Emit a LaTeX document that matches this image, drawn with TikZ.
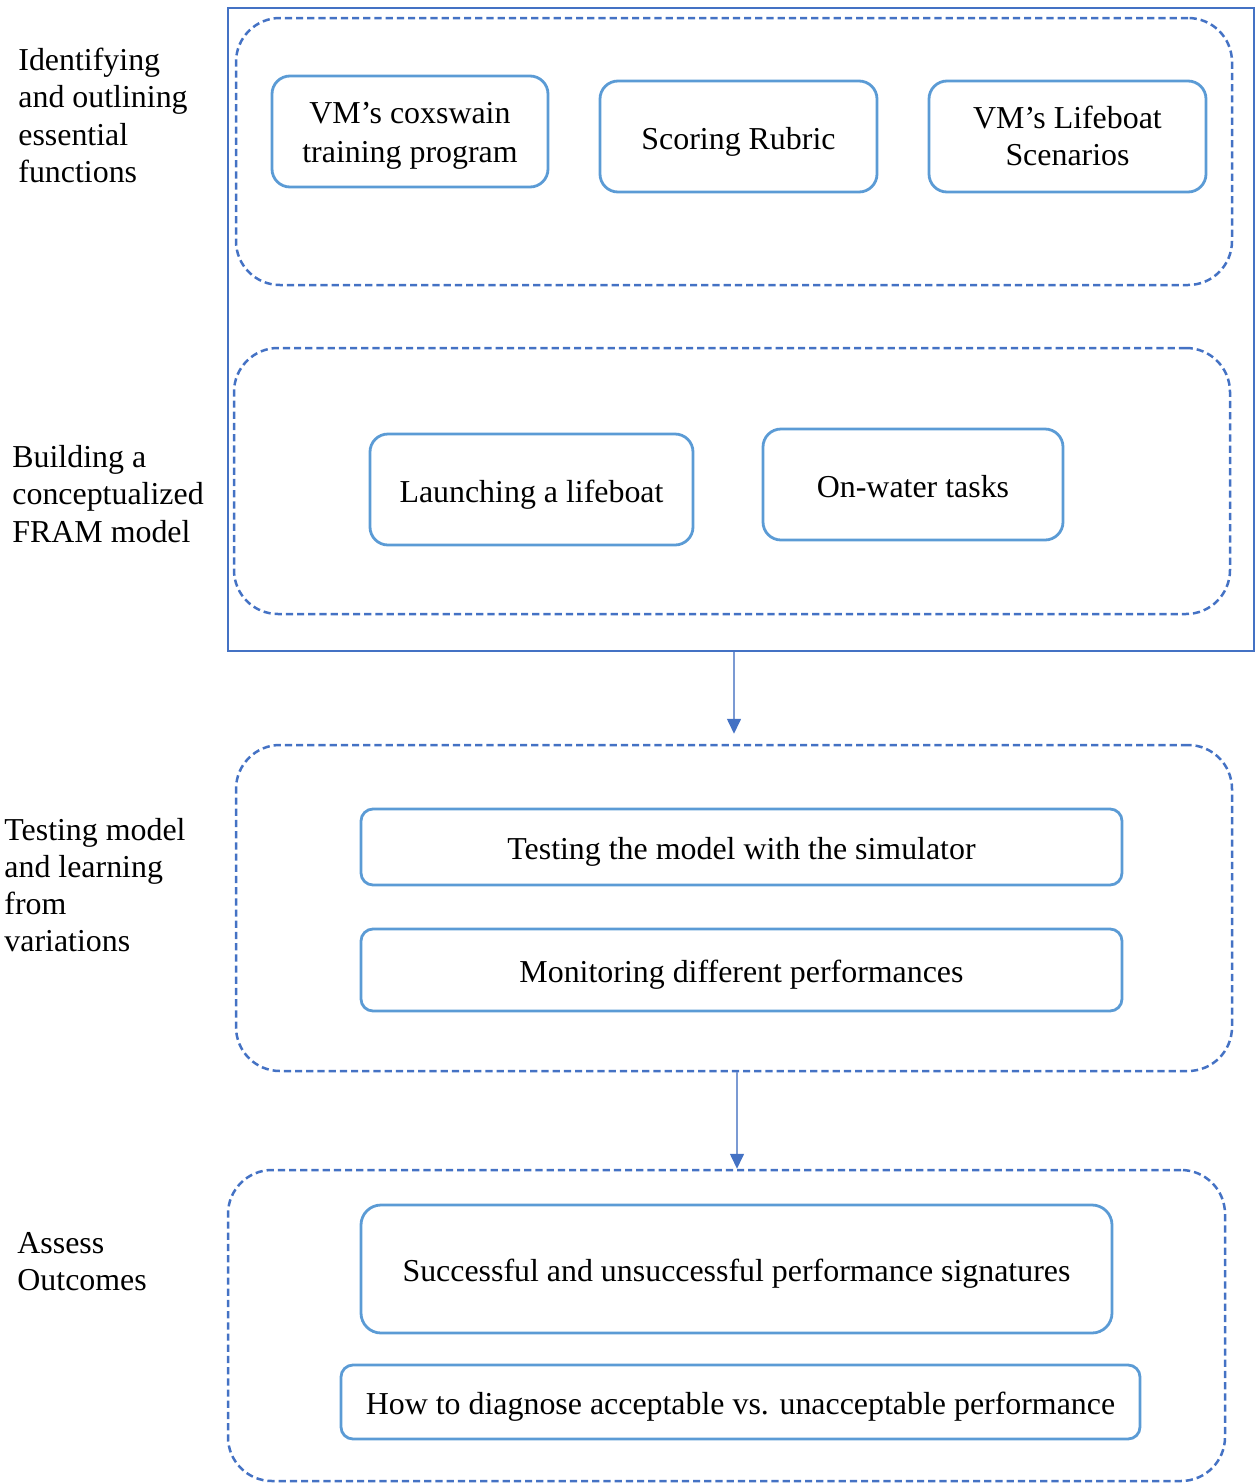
\documentclass[tikz,border=0pt]{standalone}
\usepackage{fontspec}
\setmainfont{Liberation Serif}
\usetikzlibrary{arrows.meta}
\definecolor{grpblue}{HTML}{4472C4}
\definecolor{boxblue}{HTML}{5B9BD5}
\definecolor{linkblue}{HTML}{7B9AD3}
% struts giving each text block the full ascent/descent of the font
\newcommand{\ascstrut}{\rule{0pt}{1.0em}}
\newcommand{\descstrut}{\rule[-0.216em]{0pt}{0pt}}
\newcommand{\firstline}[1]{\rule{0pt}{#1em}}
\tikzset{
  group/.style={draw=grpblue, line width=1.25pt, dash pattern=on 3.6pt off 2pt,
    rounded corners=22pt, inner sep=0pt},
  stepbox/.style={draw=boxblue, line width=1.4pt, rounded corners=9pt,
    inner sep=0pt, align=center,
    execute at begin node=\ascstrut, execute at end node=\descstrut},
  phase/.style={anchor=west, align=left, inner sep=0pt},
  link/.style={draw=linkblue, line width=0.8pt,
    -{Triangle[width=7pt,length=7.5pt,fill=grpblue,color=grpblue]}},
  bx/.style 2 args={minimum width=#1*0.5pt, minimum height=#2*0.5pt},
}
\begin{document}
\begin{tikzpicture}[x=0.5pt,y=-0.5pt,
  every node/.style={font=\fontsize{15.95}{18.6}\selectfont}]
\useasboundingbox (0,0) rectangle (1255,1484);

% outer frame around the first two stages
\node[draw=grpblue, line width=1pt, inner sep=0pt, bx={1026}{643}] (frame) at (741,329.5) {};

% stage containers
\node[group, bx={996}{267}] (grp1) at (734,151.5) {};
\node[group, bx={996}{266}] (grp2) at (732,481) {};
\node[group, bx={996}{326}] (grp3) at (734,908) {};
\node[group, bx={997}{311}] (grp4) at (726.5,1325.5) {};

% stage 1
\node[stepbox, bx={276}{111}] (b1) at (410,131.5) {\firstline{0.96}VM’s coxswain\\[1pt]training program};
\node[stepbox, bx={277}{111}] (b2) at (738.5,136.5) {Scoring Rubric};
\node[stepbox, bx={277}{111}] (b3) at (1067.5,136.5) {\firstline{0.87}VM’s Lifeboat\\Scenarios};

% stage 2
\node[stepbox, bx={323}{111}] (b4) at (531.5,489.5) {Launching a lifeboat};
\node[stepbox, bx={300}{111}] (b5) at (913,484.5) {On-water tasks};

% stage 3
\node[stepbox, rounded corners=6pt, bx={761}{76}] (b6) at (741.5,847) {Testing the model with the simulator};
\node[stepbox, rounded corners=6pt, bx={761}{82}] (b7) at (741.5,970) {Monitoring different performances};

% stage 4
\node[stepbox, rounded corners=10pt, bx={751}{128}] (b8) at (736.5,1269) {Successful and unsuccessful performance signatures};
\node[stepbox, rounded corners=6pt, bx={799}{74}] (b9) at (740.5,1402) {How to diagnose acceptable vs. unacceptable performance};

% phase labels
\node[phase] (p1) at (18,115.5) {Identifying\\and outlining\\essential\\functions};
\node[phase] (p2) at (12,494) {Building a\\conceptualized\\FRAM model};
\node[phase] (p3) at (4,885) {Testing model\\and learning\\from\\variations};
\node[phase] (p4) at (17,1262) {Assess\\Outcomes};

% connectors
\draw[link, shorten >=5pt] (frame.south -| grp3.north) -- (grp3.north);
\draw[link] ([xshift=1.5pt]grp3.south) -- ([xshift=1.5pt]grp3.south |- grp4.north);
\end{tikzpicture}
\end{document}
